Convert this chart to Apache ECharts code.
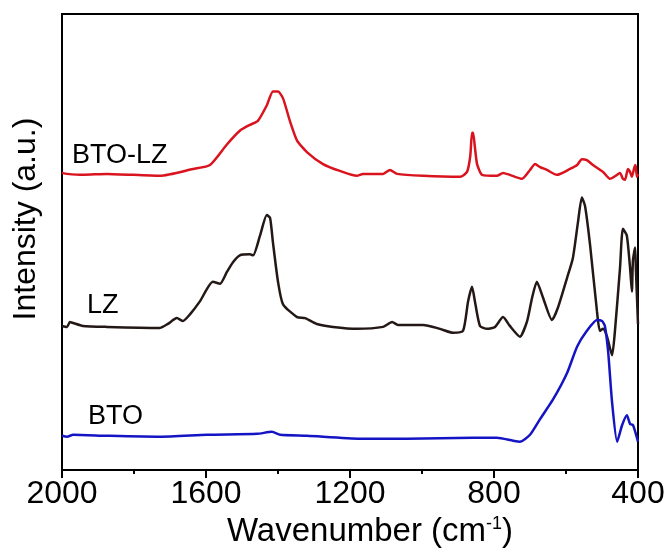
<!DOCTYPE html>
<html>
<head>
<meta charset="utf-8">
<script src="https://cdn.jsdelivr.net/npm/echarts@6/dist/echarts.min.js"></script>
<style>
  html, body { margin: 0; padding: 0; background: #fff; }
  #chart { width: 668px; height: 553px; }
</style>
</head>
<body>
<div id="chart"></div>
<script>
// wavenumber (cm-1) / intensity (a.u., offset traces)
var btoLz = [
  [2000, 303], [1986, 302], [1942, 301], [1875, 302], [1728, 300], [1636, 307],
  [1589, 311], [1542, 332], [1506, 346], [1478, 352], [1456, 356], [1431, 372],
  [1414, 386], [1400, 386], [1386, 379], [1367, 356], [1347, 336], [1319, 324],
  [1275, 312], [1228, 305], [1181, 300], [1164, 302], [1108, 302], [1089, 306],
  [1069, 302], [997, 300], [894, 299], [875, 304], [866, 320], [861, 344],
  [858, 344], [853, 329], [847, 312], [833, 301], [792, 300], [775, 303],
  [756, 301], [722, 297], [700, 306], [686, 312], [672, 309], [653, 306],
  [625, 301], [589, 307], [569, 311], [556, 317], [542, 316], [525, 311],
  [497, 304], [478, 297], [458, 301], [450, 303], [442, 297], [436, 296],
  [428, 307], [422, 304], [417, 299], [408, 311], [406, 309], [403, 299], [400, 302]
];
var lz = [
  [2000, 147], [1986, 146], [1978, 151], [1969, 150], [1942, 147], [1875, 146],
  [1728, 145], [1706, 149], [1681, 155], [1664, 152], [1644, 159], [1617, 172],
  [1581, 192], [1561, 190], [1542, 202], [1525, 212], [1506, 219], [1478, 220],
  [1469, 219], [1450, 239], [1431, 260], [1422, 257], [1414, 232], [1400, 192],
  [1386, 169], [1347, 156], [1325, 155], [1292, 149], [1247, 146], [1181, 144],
  [1108, 146], [1083, 151], [1067, 148], [997, 148], [950, 144], [914, 140],
  [886, 142], [872, 172], [861, 187], [853, 172], [839, 147], [819, 144],
  [797, 146], [775, 156], [756, 147], [728, 136], [708, 152], [694, 176],
  [681, 192], [664, 176], [639, 153], [622, 166], [597, 196], [581, 216],
  [567, 252], [556, 278], [547, 269], [533, 229], [514, 162], [506, 142],
  [497, 144], [486, 136], [472, 117], [464, 142], [450, 206], [442, 246],
  [431, 239], [422, 206], [417, 182], [414, 214], [408, 227], [406, 206], [400, 149]
];
var bto = [
  [2000, 35], [1986, 34], [1969, 36], [1875, 35], [1728, 34], [1597, 36],
  [1458, 37], [1417, 39], [1394, 36], [1319, 35], [1172, 32], [1042, 32],
  [858, 33], [792, 33], [747, 30], [728, 29], [700, 36], [672, 52],
  [636, 72], [597, 99], [569, 126], [542, 142], [514, 153], [500, 152],
  [492, 147], [483, 121], [472, 69], [458, 29], [444, 46], [431, 56],
  [422, 47], [414, 46], [400, 29]
];
var seriesNames = ['BTO-LZ', 'LZ', 'BTO'];
var seriesColors = ['#d9141e', '#231815', '#1414c4'];
var xTicks = [2000, 1600, 1200, 800, 400];

var font = 'Liberation Sans, Arial, sans-serif';
var chart = echarts.init(document.getElementById('chart'));

function line(name, data, color) {
  return {
    name: name,
    type: 'line',
    data: data,
    showSymbol: false,
    smooth: 0.2,
    lineStyle: { color: color, width: 2.5 },
    itemStyle: { color: color }
  };
}

chart.setOption({
  animation: false,
  grid: {
    left: 62, right: 30, top: 14, bottom: 74,
    show: true, borderColor: '#000', borderWidth: 2
  },
  xAxis: {
    type: 'value',
    inverse: true,
    min: xTicks[xTicks.length - 1],
    max: xTicks[0],
    interval: 400,
    name: '{n|Wavenumber (cm}{s|-1}{n|)}',
    nameLocation: 'middle',
    nameGap: 26,
    nameTextStyle: {
      padding: [0, 0, 0, 40],
      rich: {
        n: { fontFamily: font, fontSize: 33, color: '#000' },
        s: { fontFamily: font, fontSize: 18, color: '#000', verticalAlign: 'top', padding: [0, 0, 14, 0] }
      }
    },
    axisLine: { lineStyle: { color: '#000', width: 2 } },
    axisTick: { inside: false, length: 8, lineStyle: { color: '#000', width: 2 } },
    minorTick: { show: true, splitNumber: 2, length: 4, lineStyle: { color: '#000', width: 2 } },
    axisLabel: {
      color: '#000', fontFamily: font, fontSize: 32, margin: 8,
      formatter: function (v) { return String(v); }
    },
    splitLine: { show: false },
    minorSplitLine: { show: false }
  },
  yAxis: {
    type: 'value',
    min: 0,
    max: 465,
    name: 'Intensity (a.u.)',
    nameLocation: 'middle',
    nameGap: 20,
    nameTextStyle: { color: '#000', fontFamily: font, fontSize: 32, padding: [0, 0, 0, 46] },
    axisLine: { show: true, lineStyle: { color: '#000', width: 2 } },
    axisTick: { show: false },
    axisLabel: { show: false },
    splitLine: { show: false }
  },
  graphic: [
    { type: 'text', left: 72, top: 142, style: { text: seriesNames[0], font: '27px ' + font, fill: '#000' } },
    { type: 'text', left: 87, top: 292, style: { text: seriesNames[1], font: '27px ' + font, fill: '#000' } },
    { type: 'text', left: 88, top: 403, style: { text: seriesNames[2], font: '27px ' + font, fill: '#000' } }
  ],
  series: [
    line(seriesNames[0], btoLz, seriesColors[0]),
    line(seriesNames[1], lz, seriesColors[1]),
    line(seriesNames[2], bto, seriesColors[2])
  ]
});
</script>
</body>
</html>
